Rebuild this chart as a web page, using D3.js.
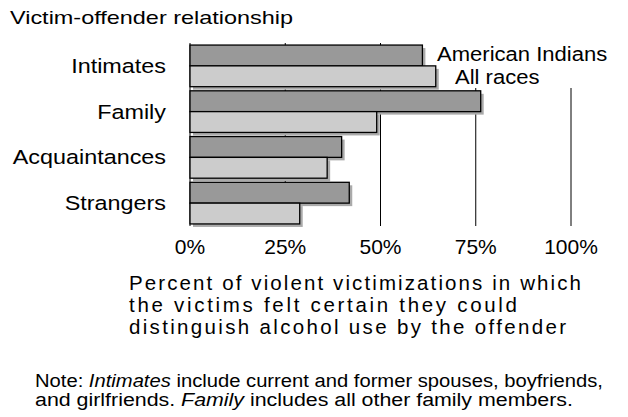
<!DOCTYPE html>
<html>
<head>
<meta charset="utf-8">
<script src="https://cdn.jsdelivr.net/npm/d3@7"></script>
<style>
  body { margin: 0; background: #fff; }
  text { font-family: "Liberation Sans", Arial, sans-serif; fill: #000; }
</style>
</head>
<body>
<svg id="chart" width="628" height="417"></svg>
<script>
// data
var categories = ["Intimates", "Family", "Acquaintances", "Strangers"];
var seriesNames = ["American Indians", "All races"];
var americanIndians = [61, 76.3, 39.8, 41.8];
var allRaces = [64.5, 49, 36, 28.8];
var tickValues = [0, 25, 50, 75, 100];
var tickLabels = ["0%", "25%", "50%", "75%", "100%"];
var titleLines = [
    "Percent of violent victimizations in which",
    "the victims felt certain they could",
    "distinguish alcohol use by the offender"
];

var svg = d3.select("#chart");

var x = d3.scaleLinear().domain([0, 100]).range([190, 571]);
var y = d3.scaleBand().domain(categories).range([43, 226]).paddingInner(0.09).paddingOuter(0.045);
var ySub = d3.scaleBand().domain(seriesNames).range([0, y.bandwidth()]);
var fill = d3.scaleOrdinal().domain(seriesNames).range(["#999999", "#cccccc"]);

// stretch text horizontally by a factor
function widen(sel, k) {
    sel.each(function() {
        var len = this.getComputedTextLength();
        d3.select(this).attr("textLength", len * k).attr("lengthAdjust", "spacingAndGlyphs");
    });
}

// title
svg.append("text")
    .attr("x", 10).attr("y", 24)
    .style("font-size", "19px")
    .text("Victim-offender relationship")
    .attr("textLength", 283).attr("lengthAdjust", "spacingAndGlyphs");

// gridlines
svg.append("g").selectAll("line")
    .data(tickValues)
    .enter().append("line")
    .attr("x1", function(d) { return x(d); })
    .attr("x2", function(d) { return x(d); })
    .attr("y1", 43).attr("y2", 226)
    .attr("stroke", "#000").attr("stroke-width", 1);

// legend box hides the gridlines behind it
svg.append("rect").attr("x", 432).attr("y", 38).attr("width", 196).attr("height", 50).attr("fill", "#fff");

var rows = categories.map(function(c, i) {
    return { cat: c, vals: [americanIndians[i], allRaces[i]] };
});

var groups = svg.append("g").selectAll("g")
    .data(rows)
    .enter().append("g")
    .attr("transform", function(d) { return "translate(0," + y(d.cat) + ")"; });

var bars = groups.selectAll("g")
    .data(function(d) { return d.vals.map(function(v, j) { return { s: seriesNames[j], v: v }; }); })
    .enter().append("g");

// drop shadow
bars.append("rect")
    .attr("x", x(0) + 3)
    .attr("y", function(d) { return ySub(d.s) + 3; })
    .attr("width", function(d) { return x(d.v) - x(0); })
    .attr("height", ySub.bandwidth())
    .attr("fill", "#aaaaaa");

bars.append("rect")
    .attr("x", x(0))
    .attr("y", function(d) { return ySub(d.s); })
    .attr("width", function(d) { return x(d.v) - x(0); })
    .attr("height", ySub.bandwidth())
    .attr("fill", function(d) { return fill(d.s); })
    .attr("stroke", "#000").attr("stroke-width", 1.3);

// category labels
svg.append("g").selectAll("text")
    .data(categories)
    .enter().append("text")
    .attr("x", 166)
    .attr("y", function(d) { return y(d) + y.bandwidth() / 2 + 7; })
    .attr("text-anchor", "end")
    .style("font-size", "20.5px")
    .text(function(d) { return d; })
    .call(widen, 1.14);

// legend labels
svg.append("text").attr("x", 437).attr("y", 61).style("font-size", "19.5px")
    .text(seriesNames[0]).call(widen, 1.13);
svg.append("text").attr("x", 455).attr("y", 84).style("font-size", "19.5px")
    .text(seriesNames[1]).call(widen, 1.13);

// tick labels
svg.append("g").selectAll("text")
    .data(tickValues)
    .enter().append("text")
    .attr("x", function(d) { return x(d); })
    .attr("y", 254)
    .attr("text-anchor", "middle")
    .style("font-size", "21px")
    .text(function(d, i) { return tickLabels[i]; });

// axis title
var titleWidths = [452, 388, 437];
svg.append("g").selectAll("text")
    .data(titleLines)
    .enter().append("text")
    .attr("x", 129)
    .attr("y", function(d, i) { return 290 + i * 22; })
    .style("font-size", "20.5px")
    .text(function(d) { return d; })
    .attr("textLength", function(d, i) { return titleWidths[i]; })
    .attr("lengthAdjust", "spacing");

// note
var note1 = svg.append("text").attr("x", 35).attr("y", 387)
    .style("font-size", "18px").style("font-family", "'Liberation Sans Narrow', 'Liberation Sans', sans-serif");
note1.append("tspan").text("Note:  ");
note1.append("tspan").style("font-style", "italic").text("Intimates");
note1.append("tspan").text(" include current and former spouses, boyfriends,");
note1.attr("textLength", 568).attr("lengthAdjust", "spacingAndGlyphs");

var note2 = svg.append("text").attr("x", 35).attr("y", 406)
    .style("font-size", "18px").style("font-family", "'Liberation Sans Narrow', 'Liberation Sans', sans-serif");
note2.append("tspan").text("and girlfriends.  ");
note2.append("tspan").style("font-style", "italic").text("Family");
note2.append("tspan").text(" includes all other family members.");
note2.attr("textLength", 538).attr("lengthAdjust", "spacingAndGlyphs");
</script>
</body>
</html>
